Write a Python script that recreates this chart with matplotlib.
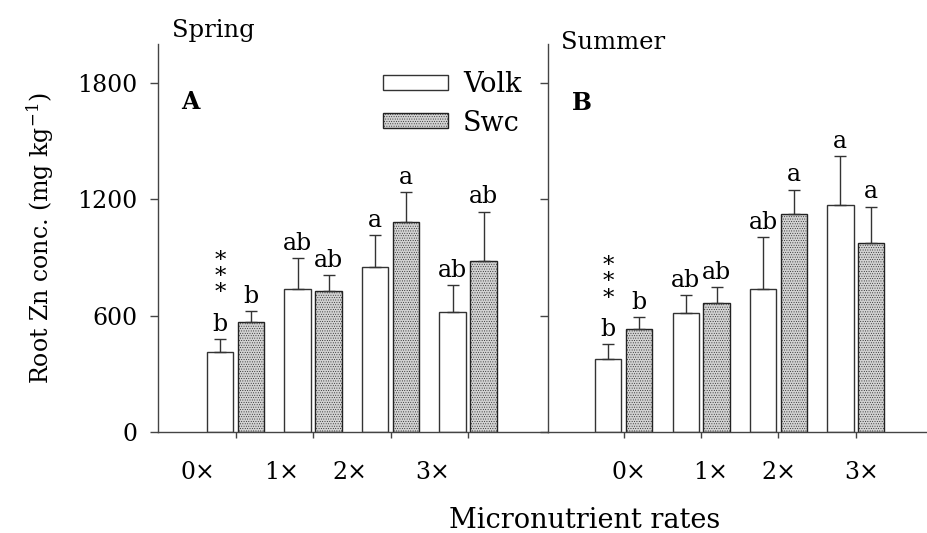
import matplotlib
matplotlib.use('Agg')
import matplotlib.pyplot as plt
import numpy as np
from matplotlib.patches import Patch

# ---- data ----
categories = ['0×', '1×', '2×', '3×']
series_names = ['Volk', 'Swc']
spring_volk = [414, 736, 853, 621]
spring_volk_err = [66, 160, 163, 137]
spring_swc = [566, 726, 1082, 879]
spring_swc_err = [57, 81, 155, 256]
summer_volk = [377, 612, 736, 1168]
summer_volk_err = [75, 95, 270, 254]
summer_swc = [530, 664, 1123, 973]
summer_swc_err = [62, 81, 126, 189]
spring_volk_letters = ['b', 'ab', 'a', 'ab']
spring_swc_letters = ['b', 'ab', 'a', 'ab']
summer_volk_letters = ['b', 'ab', 'ab', 'a']
summer_swc_letters = ['b', 'ab', 'a', 'a']
spring_volk_sig = ['***', '', '', '']
summer_volk_sig = ['***', '', '', '']
yticks = [0, 600, 1200, 1800]

# ---- style ----
FONT = 'DejaVu Serif'
FS = 17
FS_BIG = 19.5
plt.rcParams['font.family'] = [FONT]
plt.rcParams['mathtext.fontset'] = 'dejavuserif'
plt.rcParams['hatch.linewidth'] = 0.35
plt.rcParams['hatch.color'] = '#8c8c8c'
EDGE = '#333333'
SPINE = '#444444'
SWC_FACE = '#d2d2d2'
HATCH = '.......'

fig = plt.figure(figsize=(9.27, 5.33), dpi=100)
ax1 = fig.add_axes([158/927, 1-432/533, 390/927, 388/533])
ax2 = fig.add_axes([548/927, 1-432/533, 379/927, 388/533])

x = np.arange(1, len(categories) + 1)
w = 0.34
off = 0.2


def draw(ax, volk, volk_err, swc, swc_err, vl, sl, sig):
    ax.bar(x - off, volk, w, color='white', edgecolor=EDGE, linewidth=1.0, zorder=2)
    ax.bar(x + off, swc, w, color=SWC_FACE, edgecolor='#222222', linewidth=1.0,
           hatch=HATCH, zorder=2)
    for xs, vals, errs in ((x - off, volk, volk_err), (x + off, swc, swc_err)):
        ax.errorbar(xs, vals, yerr=[np.zeros(len(errs)), errs], fmt='none',
                    ecolor=EDGE, elinewidth=1.0, capsize=4.3, capthick=1.0, zorder=3)
    for i in range(len(categories)):
        ax.annotate(vl[i], (x[i] - off, volk[i] + volk_err[i]), xytext=(0, 6),
                    textcoords='offset points', ha='center', va='baseline', fontsize=FS)
        ax.annotate(sl[i], (x[i] + off, swc[i] + swc_err[i]), xytext=(0, 6),
                    textcoords='offset points', ha='center', va='baseline', fontsize=FS)
        if sig[i]:
            ax.annotate('\n'.join(sig[i]), (x[i] - off, volk[i] + volk_err[i]),
                        xytext=(0, 25), textcoords='offset points',
                        ha='center', va='bottom', fontsize=16.5, linespacing=0.66)
    ax.set_ylim(0, 2000)
    for s in ('top', 'right'):
        ax.spines[s].set_visible(False)
    for s in ('left', 'bottom'):
        ax.spines[s].set_color(SPINE)
        ax.spines[s].set_linewidth(1.0)
    ax.set_xticks(x)
    ax.set_xticklabels([])
    ax.tick_params(axis='x', direction='out', length=4, width=1.0, color=SPINE)
    ax.set_yticks(yticks)
    ax.tick_params(axis='y', direction='out', length=6, width=1.0, color=SPINE,
                   labelsize=FS, pad=9)


draw(ax1, spring_volk, spring_volk_err, spring_swc, spring_swc_err,
     spring_volk_letters, spring_swc_letters, spring_volk_sig)
draw(ax2, summer_volk, summer_volk_err, summer_swc, summer_swc_err,
     summer_volk_letters, summer_swc_letters, summer_volk_sig)

ax1.set_xlim(0, 5.03)
ax2.set_xlim(0.02, 4.92)
ax2.set_yticklabels([])

# category labels (offset from the ticks as in the original)
lab_off_1 = [-0.48, -0.41, -0.53, -0.46]
lab_off_2 = [0.07, 0.12, 0.01, 0.08]
for ax, offs in ((ax1, lab_off_1), (ax2, lab_off_2)):
    for i, c in enumerate(categories):
        ax.text(x[i] + offs[i], -0.105, c, transform=ax.get_xaxis_transform(),
                ha='center', va='center', fontsize=FS)

ax1.set_ylabel('Root Zn conc. (mg kg$^{-1}$)', fontsize=FS, labelpad=15)

ax1.text(0.036, 1.018, 'Spring', transform=ax1.transAxes, fontsize=17.5,
         ha='left', va='baseline')
ax2.text(0.034, 0.987, 'Summer', transform=ax2.transAxes, fontsize=17.5,
         ha='left', va='baseline')
ax1.text(0.059, 0.832, 'A', transform=ax1.transAxes, fontsize=FS,
         fontweight='bold', ha='left', va='baseline')
ax2.text(0.063, 0.83, 'B', transform=ax2.transAxes, fontsize=FS,
         fontweight='bold', ha='left', va='baseline')

handles = [Patch(facecolor='white', edgecolor=EDGE, linewidth=1.0),
           Patch(facecolor=SWC_FACE, edgecolor='#222222', linewidth=1.0, hatch=HATCH)]
ax1.legend(handles, series_names, loc='upper left', bbox_to_anchor=(0.577, 0.93),
           frameon=False, fontsize=FS_BIG, handlelength=2.4, handleheight=0.48,
           handletextpad=0.55, labelspacing=0.42, borderpad=0, borderaxespad=0)

fig.text(585/927, 1-520/533, 'Micronutrient rates', ha='center', va='center',
         fontsize=FS_BIG)

fig.savefig('out.png', dpi=100)
